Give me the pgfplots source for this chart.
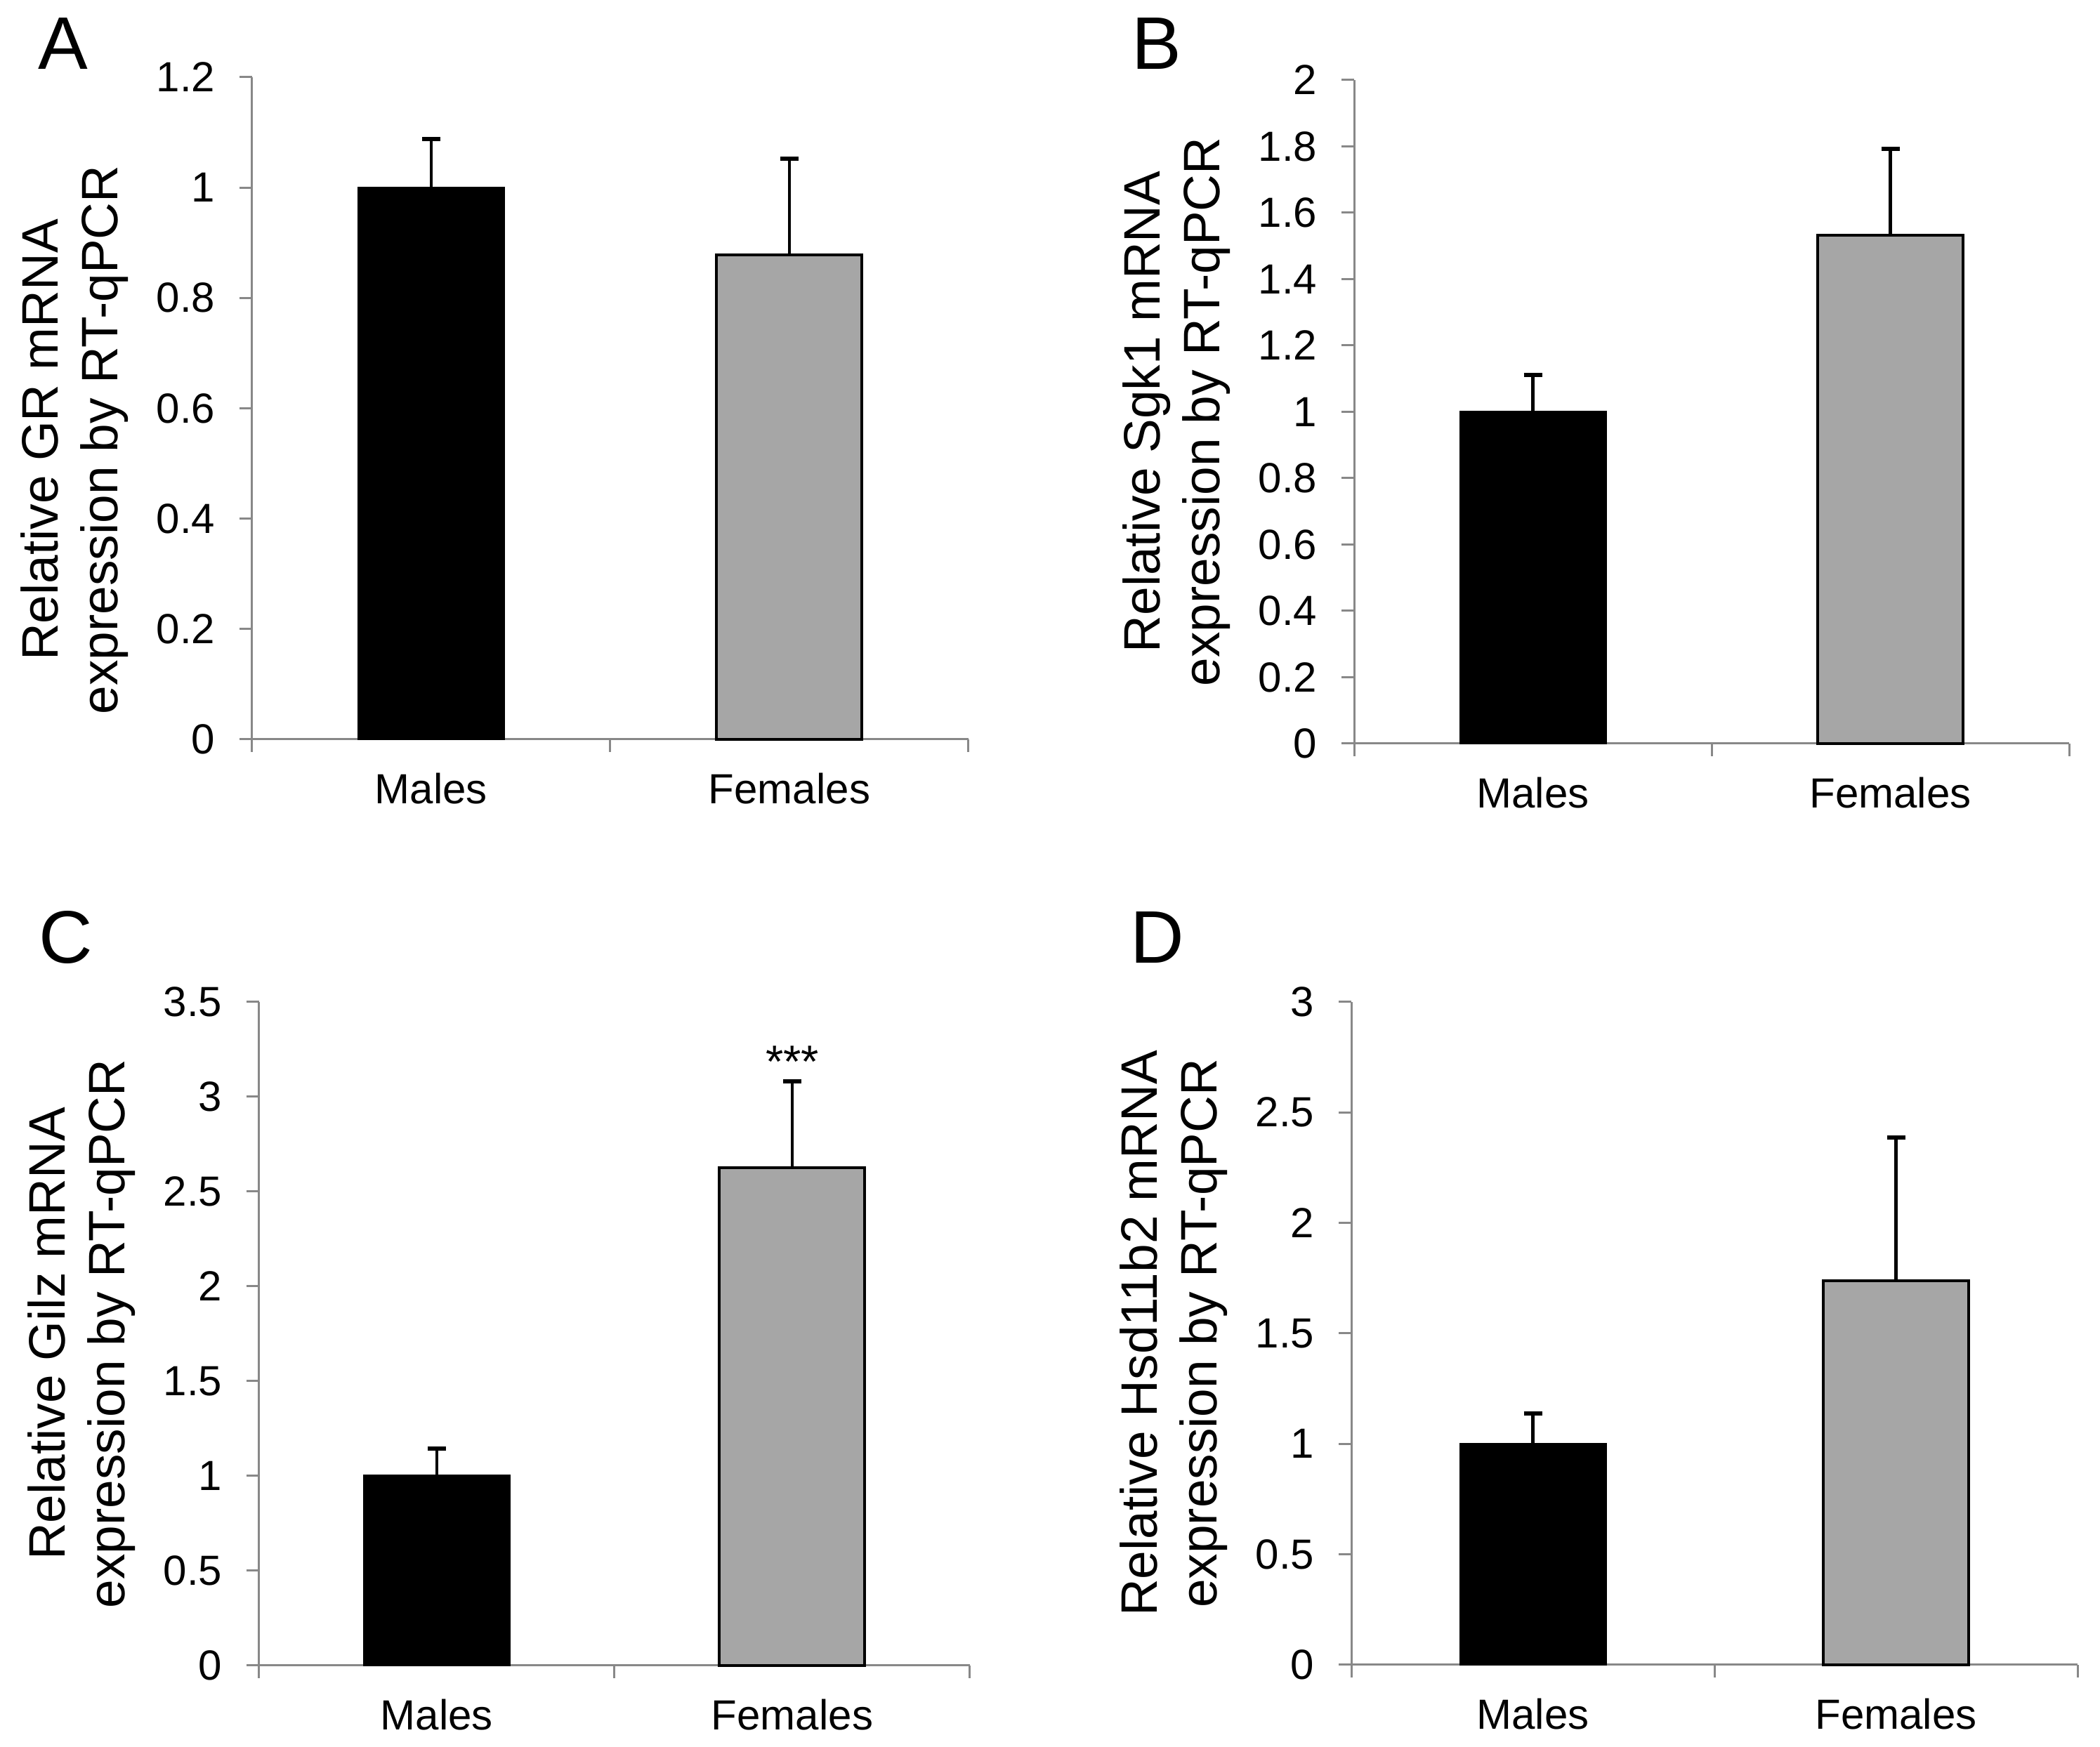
\documentclass[border=0pt]{standalone}
\usepackage{fontspec}
\setmainfont{Liberation Sans}
\usepackage{pgfplots}
\pgfplotsset{compat=1.18}
\definecolor{axgray}{HTML}{888888}
\definecolor{bargray}{HTML}{A6A6A6}
\pgfplotsset{
  panel/.style={
    scale only axis, anchor=south west,
    xmin=0, xmax=2, ymin=0,
    axis lines=left,
    axis line style={-, draw=axgray, line width=0.6pt},
    tick align=outside,
    major tick length=3.6pt,
    tick style={draw=axgray, line width=0.6pt},
    xtick={0,1,2}, xticklabels={},
    extra x ticks={0.5,1.5},
    extra x tick labels={Males,Females},
    extra x tick style={major tick length=0pt, tick style={draw=none}, xticklabel style={yshift=-6pt}},
    /pgf/number format/assume math mode=true,
    tick label style={font=\fontsize{12}{14}\selectfont},
    yticklabel style={xshift=-3.4pt},
    ylabel style={font=\fontsize{14.6}{17}\selectfont, align=center, inner sep=0pt, anchor=south},
    clip=false,
  },
  mbar/.style={ybar, bar width=41.4pt, bar shift=0pt, fill=black, draw=black, line width=0.6pt,
    error bars/.cd, y dir=plus, y explicit,
    error bar style={line width=0.9pt, black},
    error mark options={rotate=90, mark size=2.6pt, line width=1.2pt, black}},
  fbar/.style={ybar, bar width=41.4pt, bar shift=0pt, fill=bargray, draw=black, line width=0.8pt,
    error bars/.cd, y dir=plus, y explicit,
    error bar style={line width=0.9pt, black},
    error mark options={rotate=90, mark size=2.6pt, line width=1.2pt, black}},
}
\begin{document}
\begin{tikzpicture}
\useasboundingbox (0,0) rectangle (598pt,497.6pt);
\node[anchor=base west, inner sep=0pt, font=\fontsize{21.2}{21.2}\selectfont] at (10.6pt,477.8pt) {A};
\node[anchor=base west, inner sep=0pt, font=\fontsize{21.2}{21.2}\selectfont] at (322pt,477.8pt) {B};
\node[anchor=base west, inner sep=0pt, font=\fontsize{21.2}{21.2}\selectfont] at (11pt,223.2pt) {C};
\node[anchor=base west, inner sep=0pt, font=\fontsize{21.2}{21.2}\selectfont] at (321.6pt,223.2pt) {D};

% Panel A
\begin{axis}[panel, at={(71.8pt,287pt)}, width=204pt, height=188.6pt,
  ymax=1.2, ytick={0,0.2,0.4,0.6,0.8,1,1.2},
  ylabel={Relative GR mRNA\\expression by RT-qPCR},
  ylabel style={at={([xshift=-35pt,yshift=-9pt]axis description cs:0,0.5)}}]
\addplot[mbar] coordinates {(0.5,1.0) +- (0,0.088)};
\addplot[fbar] coordinates {(1.5,0.878) +- (0,0.174)};
\end{axis}

% Panel B
\begin{axis}[panel, at={(385.6pt,285.8pt)}, width=203.6pt, height=189pt,
  ymax=2, ytick={0,0.2,0.4,0.6,0.8,1,1.2,1.4,1.6,1.8,2},
  ylabel={Relative Sgk1 mRNA\\expression by RT-qPCR},
  ylabel style={at={([xshift=-35pt]axis description cs:0,0.5)}}]
\addplot[mbar] coordinates {(0.5,1.0) +- (0,0.11)};
\addplot[fbar] coordinates {(1.5,1.533) +- (0,0.259)};
\end{axis}

% Panel C
\begin{axis}[panel, at={(73.8pt,23.2pt)}, width=202.4pt, height=189pt,
  ymax=3.5, ytick={0,0.5,1,1.5,2,2.5,3,3.5},
  ylabel={Relative Gilz mRNA\\expression by RT-qPCR},
  ylabel style={at={([xshift=-35pt]axis description cs:0,0.5)}}]
\addplot[mbar] coordinates {(0.5,1.0) +- (0,0.145)};
\addplot[fbar] coordinates {(1.5,2.626) +- (0,0.454)};
\node[anchor=base, inner sep=0pt, font=\fontsize{13}{13}\selectfont] at (axis cs:1.5,3.10) {***};
\end{axis}

% Panel D
\begin{axis}[panel, at={(384.8pt,23.4pt)}, width=206.8pt, height=188.8pt,
  ymax=3, ytick={0,0.5,1,1.5,2,2.5,3},
  ylabel={Relative Hsd11b2 mRNA\\expression by RT-qPCR},
  ylabel style={at={([xshift=-35pt]axis description cs:0,0.5)}}]
\addplot[mbar] coordinates {(0.5,1.0) +- (0,0.137)};
\addplot[fbar] coordinates {(1.5,1.737) +- (0,0.649)};
\end{axis}
\end{tikzpicture}
\end{document}
